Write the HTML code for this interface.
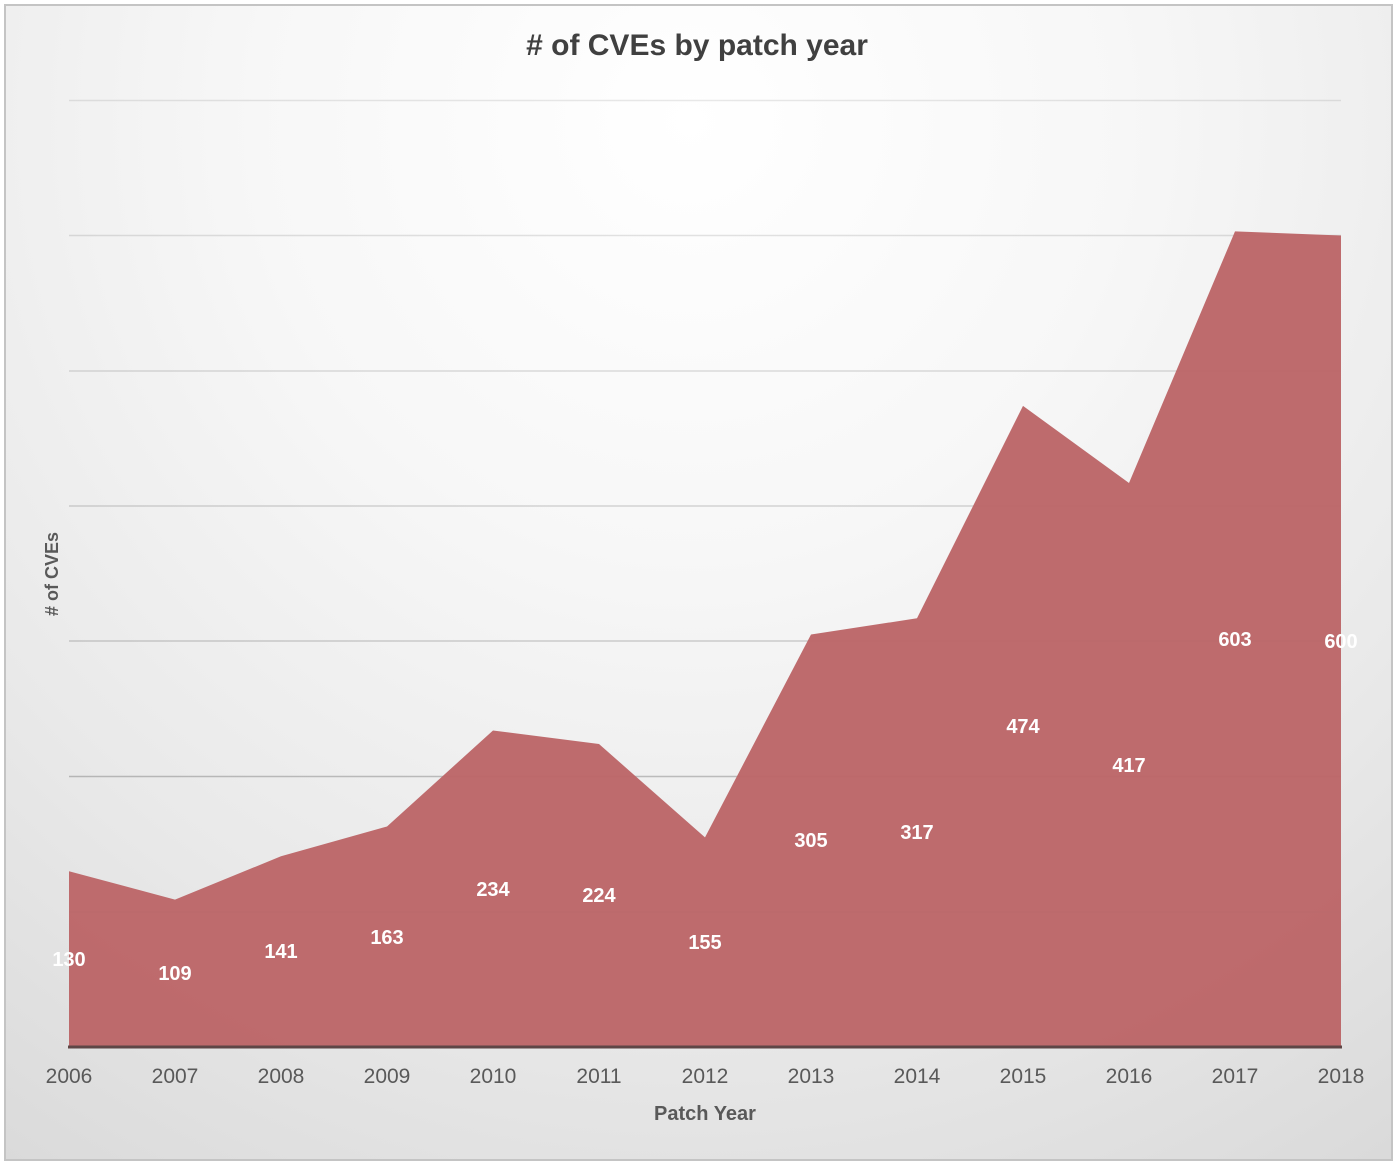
<!DOCTYPE html>
<html>
<head>
<meta charset="utf-8">
<style>
  html,body{margin:0;padding:0;background:#fff;}
  body{width:1398px;height:1166px;overflow:hidden;}
  svg{display:block;}
  text{font-family:"Liberation Sans",Arial,sans-serif;}
</style>
</head>
<body>
<svg width="1398" height="1166" viewBox="0 0 1398 1166" xmlns="http://www.w3.org/2000/svg">
  <defs>
    <radialGradient id="bg" cx="690" cy="120" r="1250" gradientUnits="userSpaceOnUse">
      <stop offset="0" stop-color="#ffffff"/>
      <stop offset="0.35" stop-color="#f7f7f7"/>
      <stop offset="0.7" stop-color="#e9e9e9"/>
      <stop offset="1" stop-color="#dadada"/>
    </radialGradient>
  </defs>
  <rect x="0" y="0" width="1398" height="1166" fill="#ffffff"/>
  <rect x="5" y="5" width="1387" height="1155" fill="url(#bg)" stroke="#c4c4c4" stroke-width="2"/>

  <!-- title -->
  <text x="697" y="55" text-anchor="middle" font-size="30" font-weight="bold" fill="#404040"># of CVEs by patch year</text>

  <!-- gridlines -->
  <g stroke="#000" stroke-width="1.5">
    <line x1="69" y1="100.5" x2="1341" y2="100.5" stroke-opacity="0.09"/>
    <line x1="69" y1="235.5" x2="1341" y2="235.5" stroke-opacity="0.11"/>
    <line x1="69" y1="371" x2="1341" y2="371" stroke-opacity="0.13"/>
    <line x1="69" y1="506" x2="1341" y2="506" stroke-opacity="0.15"/>
    <line x1="69" y1="641" x2="1341" y2="641" stroke-opacity="0.17"/>
    <line x1="69" y1="776.5" x2="1341" y2="776.5" stroke-opacity="0.22"/>
    <line x1="69" y1="912" x2="1341" y2="912" stroke-opacity="0.22"/>
  </g>

  <!-- area -->
  <polygon fill="#bc6668" fill-opacity="0.97" points="69,1047 69,871.2 175,899.6 281,856.3 387,826.5 493,730.5 599,744 705,837.4 811,634.5 917,618.3 1023,405.9 1129,483 1235,231.4 1341,235.5 1341,1047"/>

  <!-- baseline -->
  <line x1="68" y1="1047" x2="1342" y2="1047" stroke="#5e4646" stroke-width="3"/>

  <!-- data labels -->
  <g font-size="20" font-weight="bold" fill="#ffffff" text-anchor="middle">
    <text x="69" y="966">130</text>
    <text x="175" y="980">109</text>
    <text x="281" y="958">141</text>
    <text x="387" y="944">163</text>
    <text x="493" y="896">234</text>
    <text x="599" y="902">224</text>
    <text x="705" y="949">155</text>
    <text x="811" y="847">305</text>
    <text x="917" y="839">317</text>
    <text x="1023" y="733">474</text>
    <text x="1129" y="772">417</text>
    <text x="1235" y="646">603</text>
    <text x="1341" y="648">600</text>
  </g>

  <!-- x tick labels -->
  <g font-size="21" fill="#595959" text-anchor="middle">
    <text x="69" y="1083">2006</text>
    <text x="175" y="1083">2007</text>
    <text x="281" y="1083">2008</text>
    <text x="387" y="1083">2009</text>
    <text x="493" y="1083">2010</text>
    <text x="599" y="1083">2011</text>
    <text x="705" y="1083">2012</text>
    <text x="811" y="1083">2013</text>
    <text x="917" y="1083">2014</text>
    <text x="1023" y="1083">2015</text>
    <text x="1129" y="1083">2016</text>
    <text x="1235" y="1083">2017</text>
    <text x="1341" y="1083">2018</text>
  </g>

  <!-- axis titles -->
  <text x="705" y="1120" text-anchor="middle" font-size="20" font-weight="bold" fill="#595959">Patch Year</text>
  <text transform="translate(58,574) rotate(-90)" text-anchor="middle" font-size="18" font-weight="bold" fill="#595959"># of CVEs</text>
</svg>
</body>
</html>
